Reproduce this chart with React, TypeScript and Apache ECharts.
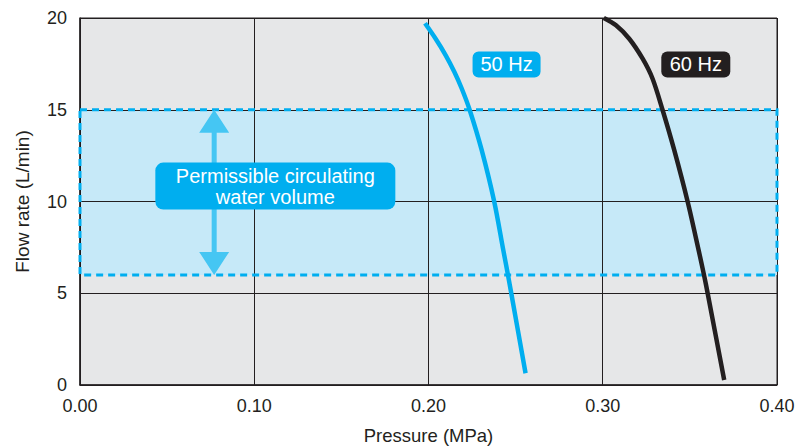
import React, { useEffect, useRef } from "react";
import * as echarts from "echarts";

// Pump curves: [pressure MPa, flow L/min]
const hz50: [number, number][] = [
  [0.198, 19.71],
  [0.204, 18.88],
  [0.2098, 17.98],
  [0.2148, 17.07],
  [0.219, 16.17],
  [0.2236, 15.0],
  [0.2305, 12.81],
  [0.2377, 10.0],
  [0.2429, 7.36],
  [0.2456, 6.0],
  [0.2475, 5.0],
  [0.2557, 0.64],
];
const hz60: [number, number][] = [
  [0.3006, 20.0],
  [0.3076, 19.6],
  [0.3152, 18.87],
  [0.3229, 17.78],
  [0.3286, 16.69],
  [0.3343, 15.0],
  [0.341, 12.81],
  [0.3487, 10.0],
  [0.355, 7.36],
  [0.3581, 6.0],
  [0.3602, 5.0],
  [0.3697, 0.27],
];
// Permissible band: [xMin, yMin, xMax, yMax]
const band = [[0, 6, 0.4, 15]];
// Arrow: [x, yLow, yHigh]
const arrow = [[0.077, 6, 15]];
// Annotation labels
const labelNames = ["50 Hz", "60 Hz", "Permissible circulating\nwater volume"];
const labelPos = [
  [0.2448, 17.47],
  [0.3534, 17.47],
  [0.1121, 10.84],
];

const FONT = '"Liberation Sans", Arial, Helvetica, sans-serif';
const labelStyles = [
  { w: 68, h: 26, r: 6, fill: "#00aeef", fs: 20, lh: 22 },
  { w: 69, h: 26, r: 6, fill: "#231f20", fs: 20, lh: 22 },
  { w: 240, h: 47, r: 8, fill: "#00aeef", fs: 20, lh: 21 },
];

export default function App() {
  const ref = useRef<HTMLDivElement>(null);
  useEffect(() => {
    if (!ref.current) return;
    const chart = echarts.init(ref.current, undefined, { renderer: "svg" });
    const axisText = { color: "#231f20", fontFamily: FONT, fontSize: 18 };
    chart.setOption({
      animation: false,
      grid: {
        left: 80,
        right: 19,
        top: 18,
        bottom: 61,
        show: true,
        backgroundColor: "#e6e7e8",
        borderColor: "#231f20",
        borderWidth: 1,
        outerBoundsMode: "none",
      },
      xAxis: {
        type: "value",
        min: 0,
        max: 0.4,
        interval: 0.1,
        z: 1.5,
        name: "Pressure (MPa)",
        nameLocation: "middle",
        nameGap: 41,
        nameTextStyle: { ...axisText, fontSize: 18.5 },
        axisLine: { show: true, lineStyle: { color: "#231f20", width: 1.5 } },
        axisTick: { show: false },
        axisLabel: { ...axisText, margin: 12, formatter: (v: number) => v.toFixed(2) },
        splitLine: { show: true, lineStyle: { color: "#231f20", width: 1 } },
      },
      yAxis: {
        type: "value",
        min: 0,
        max: 20,
        interval: 5,
        z: 1.5,
        name: "Flow rate (L/min)",
        nameLocation: "middle",
        nameGap: 48,
        nameTextStyle: { ...axisText, fontSize: 19 },
        axisLine: { show: true, lineStyle: { color: "#231f20", width: 1.5 } },
        axisTick: { show: false },
        axisLabel: { ...axisText, margin: 13 },
        splitLine: { show: true, lineStyle: { color: "#231f20", width: 1 } },
      },
      series: [
        {
          type: "custom",
          z: 1,
          silent: true,
          encode: { x: [0, 2], y: [1, 3] },
          data: band,
          renderItem: (params: any, api: any) => {
            const p1 = api.coord([api.value(0), api.value(3)]);
            const p2 = api.coord([api.value(2), api.value(1)]);
            return {
              type: "rect",
              shape: { x: p1[0], y: p1[1], width: p2[0] - p1[0], height: p2[1] - p1[1] },
              style: { fill: "#c6e9f8" },
            };
          },
        },
        {
          type: "custom",
          z: 3,
          silent: true,
          encode: { x: [0, 2], y: [1, 3] },
          data: band,
          renderItem: (params: any, api: any) => {
            const p1 = api.coord([api.value(0), api.value(3)]);
            const p2 = api.coord([api.value(2), api.value(1)]);
            return {
              type: "rect",
              shape: { x: p1[0], y: p1[1], width: p2[0] - p1[0], height: p2[1] - p1[1] },
              style: { fill: "none", stroke: "#00aeef", lineWidth: 3, lineDash: [7, 5] },
            };
          },
        },
        {
          name: "50 Hz",
          type: "line",
          z: 4,
          data: hz50,
          smooth: 0.3,
          symbol: "none",
          lineStyle: { color: "#00aeef", width: 4.5, cap: "butt" },
        },
        {
          name: "60 Hz",
          type: "line",
          z: 4,
          data: hz60,
          smooth: 0.3,
          symbol: "none",
          lineStyle: { color: "#231f20", width: 4.5, cap: "butt" },
        },
        {
          type: "custom",
          z: 5,
          silent: true,
          encode: { x: 0, y: [1, 2] },
          data: arrow,
          renderItem: (params: any, api: any) => {
            const t = api.coord([api.value(0), api.value(2)]);
            const b = api.coord([api.value(0), api.value(1)]);
            const cx = t[0];
            const hw = 15, hl = 23, sw = 2.5;
            return {
              type: "polygon",
              shape: {
                points: [
                  [cx, t[1]],
                  [cx + hw, t[1] + hl],
                  [cx + sw, t[1] + hl],
                  [cx + sw, b[1] - hl],
                  [cx + hw, b[1] - hl],
                  [cx, b[1]],
                  [cx - hw, b[1] - hl],
                  [cx - sw, b[1] - hl],
                  [cx - sw, t[1] + hl],
                  [cx - hw, t[1] + hl],
                ],
              },
              style: { fill: "#45c6f3" },
            };
          },
        },
        {
          type: "custom",
          z: 6,
          silent: true,
          encode: { x: 0, y: 1 },
          data: labelPos,
          renderItem: (params: any, api: any) => {
            const i = params.dataIndex;
            const c = api.coord([api.value(0), api.value(1)]);
            const s = labelStyles[i];
            return {
              type: "group",
              children: [
                {
                  type: "rect",
                  shape: { x: c[0] - s.w / 2, y: c[1] - s.h / 2, width: s.w, height: s.h, r: s.r },
                  style: { fill: s.fill },
                },
                {
                  type: "text",
                  style: {
                    text: labelNames[i],
                    x: c[0],
                    y: c[1],
                    align: "center",
                    verticalAlign: "middle",
                    fill: "#ffffff",
                    fontFamily: FONT,
                    fontSize: s.fs,
                    lineHeight: s.lh,
                  },
                },
              ],
            };
          },
        },
      ],
    });
    return () => chart.dispose();
  }, []);
  return (
    <div
      ref={ref}
      style={{ position: "absolute", left: 0, top: 0, width: 796, height: 446 }}
    />
  );
}
